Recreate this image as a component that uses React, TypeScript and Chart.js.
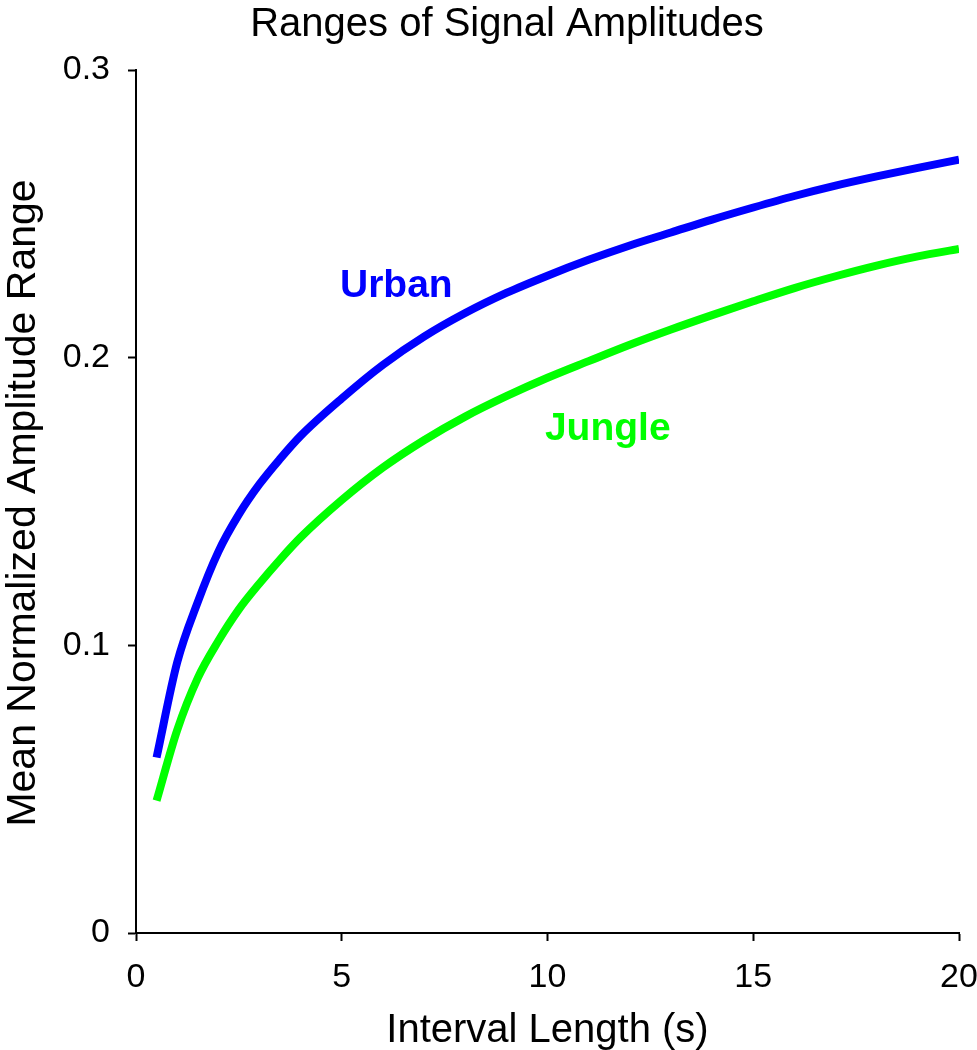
import React, { useEffect, useRef } from "react";
import { Chart, registerables } from "chart.js";

Chart.register(...registerables);

const intervalLengths = [0.5, 1, 1.5, 2, 2.5, 3, 3.5, 4, 5, 6, 7, 8, 9, 10, 11, 12, 13, 14, 15, 16, 17, 18, 19, 20];
const urbanValues = [0.061, 0.094, 0.115, 0.1325, 0.1455, 0.156, 0.1648, 0.1728, 0.1858, 0.1975, 0.2073, 0.2155, 0.2225, 0.2285, 0.234, 0.239, 0.2435, 0.248, 0.2522, 0.2562, 0.2598, 0.263, 0.266, 0.2688];
const jungleValues = [0.046, 0.0705, 0.0886, 0.1015, 0.1125, 0.1215, 0.1298, 0.1375, 0.1505, 0.1618, 0.1713, 0.1795, 0.1866, 0.193, 0.1988, 0.2045, 0.2098, 0.2148, 0.2196, 0.2242, 0.2283, 0.232, 0.2352, 0.2378];
const xTicks = [0, 5, 10, 15, 20];
const yTicks = [0, 0.1, 0.2, 0.3];
const seriesNames = ["Urban", "Jungle"];
const seriesColors = ["#0000FF", "#00FF00"];
const labelAnchorsX = [5.03, 10.01];
const labelAnchorsY = [0.221, 0.1714];

const FONT = "'Liberation Sans', Arial, Helvetica, sans-serif";

export default function App() {
  const ref = useRef<HTMLCanvasElement | null>(null);

  useEffect(() => {
    document.body.style.margin = "0";
    const canvas = ref.current;
    if (!canvas) return;

    const textPlugin = {
      id: "texts",
      afterDraw(chart: any) {
        const ctx = chart.ctx;
        const xs = chart.scales.x;
        const ys = chart.scales.y;
        const area = chart.chartArea;
        ctx.save();
        ctx.fillStyle = "#000";
        ctx.textBaseline = "alphabetic";
        ctx.font = `40px ${FONT}`;
        ctx.textAlign = "center";
        ctx.fillText("Ranges of Signal Amplitudes", 507, 36);
        ctx.fillText("Interval Length (s)", (area.left + area.right) / 2, 1042);
        ctx.save();
        ctx.translate(35, 503);
        ctx.rotate(-Math.PI / 2);
        ctx.font = `41px ${FONT}`;
        ctx.textAlign = "center";
        ctx.fillText("Mean Normalized Amplitude Range", 0, 0);
        ctx.restore();
        ctx.font = `bold 39px ${FONT}`;
        ctx.textAlign = "left";
        seriesNames.forEach((n, i) => {
          ctx.fillStyle = seriesColors[i];
          ctx.fillText(n, xs.getPixelForValue(labelAnchorsX[i]) - 3, ys.getPixelForValue(labelAnchorsY[i]));
        });
        ctx.restore();
      },
    };

    const chart = new Chart(canvas, {
      type: "line",
      data: {
        datasets: [
          {
            label: seriesNames[0],
            data: intervalLengths.map((x, i) => ({ x, y: urbanValues[i] })),
            borderColor: seriesColors[0],
            borderWidth: 8,
            pointRadius: 0,
            cubicInterpolationMode: "monotone",
            borderCapStyle: "butt",
            fill: false,
          },
          {
            label: seriesNames[1],
            data: intervalLengths.map((x, i) => ({ x, y: jungleValues[i] })),
            borderColor: seriesColors[1],
            borderWidth: 8,
            pointRadius: 0,
            cubicInterpolationMode: "monotone",
            borderCapStyle: "butt",
            fill: false,
          },
        ],
      },
      options: {
        responsive: false,
        animation: false,
        devicePixelRatio: 1,
        layout: { padding: { left: 0, right: 18, top: 70, bottom: 0 } },
        plugins: { legend: { display: false }, title: { display: false }, tooltip: { enabled: false } },
        scales: {
          x: {
            type: "linear",
            min: 0,
            max: 20,
            afterBuildTicks: (s: any) => {
              s.ticks = xTicks.map((v) => ({ value: v }));
            },
            ticks: {
              color: "#000",
              font: { family: FONT, size: 34 },
              padding: 16,
              maxRotation: 0,
              callback: (v: any) => String(v),
            },
            grid: { drawOnChartArea: false, drawTicks: true, tickLength: 8, tickColor: "#000", tickWidth: 2 },
            border: { display: true, color: "#000", width: 2 },
            afterFit: (s: any) => {
              s.height = 117;
              s.paddingLeft = 0;
              s.paddingRight = 0;
            },
          },
          y: {
            type: "linear",
            min: 0,
            max: 0.3,
            afterBuildTicks: (s: any) => {
              s.ticks = yTicks.map((v) => ({ value: v }));
            },
            ticks: {
              color: "#000",
              font: { family: FONT, size: 34 },
              padding: 18,
              callback: (v: any) => (Number(v) === 0 ? "0" : Number(v).toFixed(1)),
            },
            grid: { drawOnChartArea: false, drawTicks: true, tickLength: 8, tickColor: "#000", tickWidth: 2 },
            border: { display: true, color: "#000", width: 2 },
            afterFit: (s: any) => {
              s.width = 136;
              s.paddingTop = 0;
              s.paddingBottom = 0;
            },
          },
        },
      },
      plugins: [textPlugin],
    });
    return () => chart.destroy();
  }, []);

  return (
    <div style={{ width: 977, height: 1050 }}>
      <canvas ref={ref} width={977} height={1050} style={{ display: "block" }} />
    </div>
  );
}
